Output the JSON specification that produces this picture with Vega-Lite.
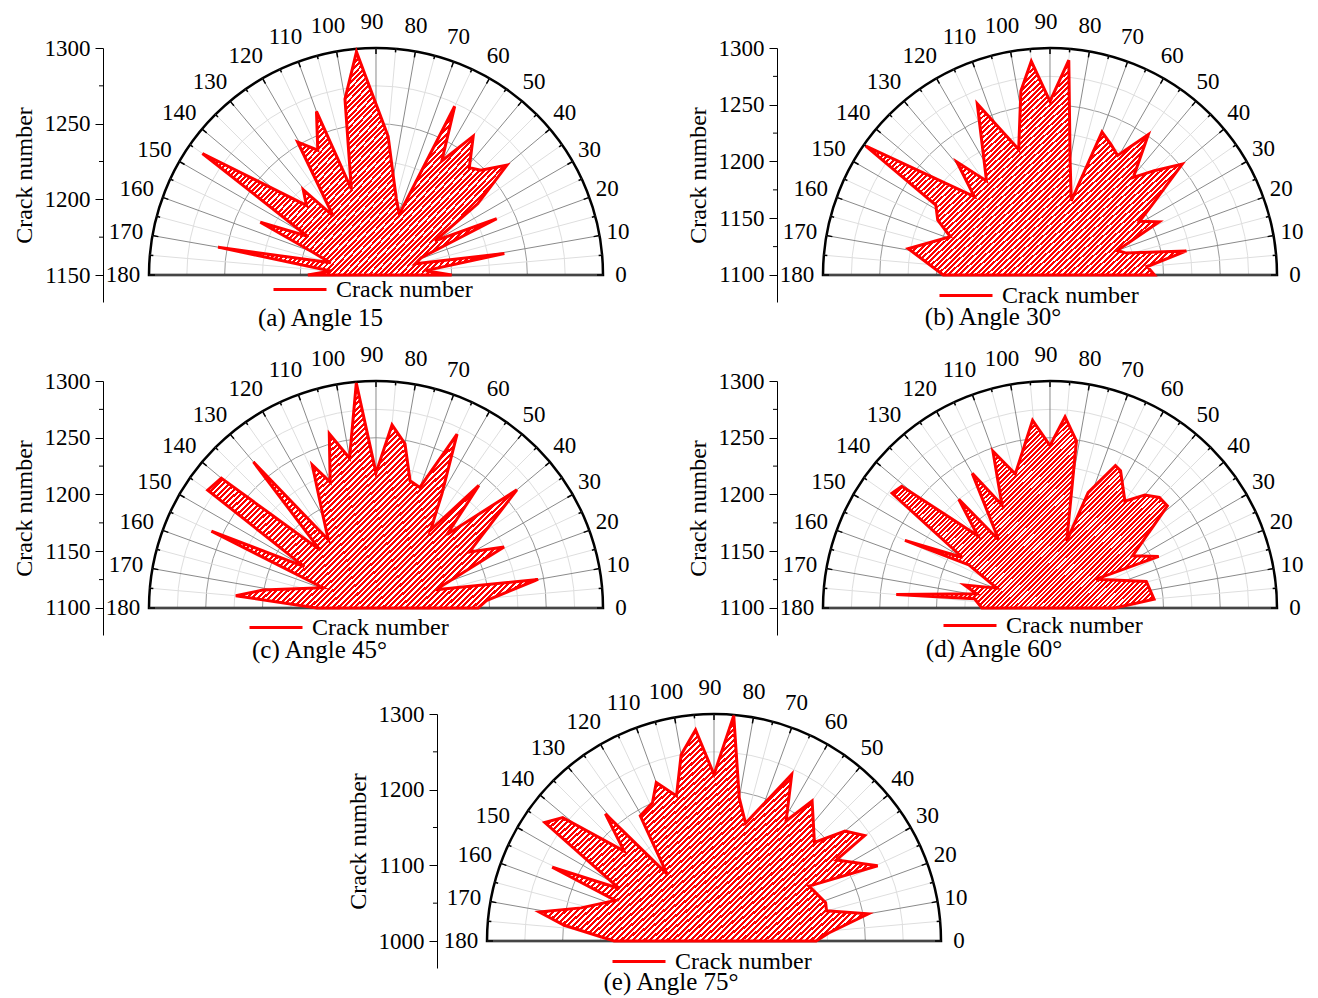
{
"$schema": "https://vega.github.io/schema/vega-lite/v6.json",
"padding": {"left": 12, "top": 10, "right": 10, "bottom": 10},
"background": "white",
"bounds": "flush",
"columns": 2,
"spacing": {"row": 79, "column": 151},
"resolve": {"scale": {"stroke": "independent"}, "legend": {"stroke": "independent"}},
"config": {
 "view": {"stroke": null},
 "font": "Liberation Serif",
 "axis": {"labelFont": "Liberation Serif", "labelFontSize": 23, "labelColor": "black", "titleFont": "Liberation Serif", "titleFontSize": 24, "titleFontWeight": "normal", "titleColor": "black", "domainColor": "black", "domainWidth": 1, "tickColor": "black", "tickSize": 8, "labelPadding": 5, "titlePadding": 8, "grid": false, "format": "d", "labelFlush": false, "labelOverlap": false},
 "legend": {"labelFont": "Liberation Serif", "labelFontSize": 24, "labelColor": "black", "symbolType": "stroke", "symbolSize": 2809, "symbolStrokeWidth": 3, "labelOffset": 8, "padding": 0},
 "title": {"font": "Liberation Serif", "fontSize": 25, "fontWeight": "normal", "color": "black", "orient": "bottom", "anchor": "middle", "offset": 3},
 "style": {"hatch": {"fill": {"gradient": "linear", "x1": 0, "y1": 0, "x2": 1.141, "y2": 0.8, "stops": [
{"offset":0,"color":"red"},{"offset":0.0055,"color":"red"},{"offset":0.0055,"color":"#fff"},{"offset":0.01,"color":"#fff"},
{"offset":0.01,"color":"red"},{"offset":0.0155,"color":"red"},{"offset":0.0155,"color":"#fff"},{"offset":0.02,"color":"#fff"},
{"offset":0.02,"color":"red"},{"offset":0.0255,"color":"red"},{"offset":0.0255,"color":"#fff"},{"offset":0.03,"color":"#fff"},
{"offset":0.03,"color":"red"},{"offset":0.0355,"color":"red"},{"offset":0.0355,"color":"#fff"},{"offset":0.04,"color":"#fff"},
{"offset":0.04,"color":"red"},{"offset":0.0455,"color":"red"},{"offset":0.0455,"color":"#fff"},{"offset":0.05,"color":"#fff"},
{"offset":0.05,"color":"red"},{"offset":0.0555,"color":"red"},{"offset":0.0555,"color":"#fff"},{"offset":0.06,"color":"#fff"},
{"offset":0.06,"color":"red"},{"offset":0.0655,"color":"red"},{"offset":0.0655,"color":"#fff"},{"offset":0.07,"color":"#fff"},
{"offset":0.07,"color":"red"},{"offset":0.0755,"color":"red"},{"offset":0.0755,"color":"#fff"},{"offset":0.08,"color":"#fff"},
{"offset":0.08,"color":"red"},{"offset":0.0855,"color":"red"},{"offset":0.0855,"color":"#fff"},{"offset":0.09,"color":"#fff"},
{"offset":0.09,"color":"red"},{"offset":0.0955,"color":"red"},{"offset":0.0955,"color":"#fff"},{"offset":0.10,"color":"#fff"},
{"offset":0.10,"color":"red"},{"offset":0.1055,"color":"red"},{"offset":0.1055,"color":"#fff"},{"offset":0.11,"color":"#fff"},
{"offset":0.11,"color":"red"},{"offset":0.1155,"color":"red"},{"offset":0.1155,"color":"#fff"},{"offset":0.12,"color":"#fff"},
{"offset":0.12,"color":"red"},{"offset":0.1255,"color":"red"},{"offset":0.1255,"color":"#fff"},{"offset":0.13,"color":"#fff"},
{"offset":0.13,"color":"red"},{"offset":0.1355,"color":"red"},{"offset":0.1355,"color":"#fff"},{"offset":0.14,"color":"#fff"},
{"offset":0.14,"color":"red"},{"offset":0.1455,"color":"red"},{"offset":0.1455,"color":"#fff"},{"offset":0.15,"color":"#fff"},
{"offset":0.15,"color":"red"},{"offset":0.1555,"color":"red"},{"offset":0.1555,"color":"#fff"},{"offset":0.16,"color":"#fff"},
{"offset":0.16,"color":"red"},{"offset":0.1655,"color":"red"},{"offset":0.1655,"color":"#fff"},{"offset":0.17,"color":"#fff"},
{"offset":0.17,"color":"red"},{"offset":0.1755,"color":"red"},{"offset":0.1755,"color":"#fff"},{"offset":0.18,"color":"#fff"},
{"offset":0.18,"color":"red"},{"offset":0.1855,"color":"red"},{"offset":0.1855,"color":"#fff"},{"offset":0.19,"color":"#fff"},
{"offset":0.19,"color":"red"},{"offset":0.1955,"color":"red"},{"offset":0.1955,"color":"#fff"},{"offset":0.20,"color":"#fff"},
{"offset":0.20,"color":"red"},{"offset":0.2055,"color":"red"},{"offset":0.2055,"color":"#fff"},{"offset":0.21,"color":"#fff"},
{"offset":0.21,"color":"red"},{"offset":0.2155,"color":"red"},{"offset":0.2155,"color":"#fff"},{"offset":0.22,"color":"#fff"},
{"offset":0.22,"color":"red"},{"offset":0.2255,"color":"red"},{"offset":0.2255,"color":"#fff"},{"offset":0.23,"color":"#fff"},
{"offset":0.23,"color":"red"},{"offset":0.2355,"color":"red"},{"offset":0.2355,"color":"#fff"},{"offset":0.24,"color":"#fff"},
{"offset":0.24,"color":"red"},{"offset":0.2455,"color":"red"},{"offset":0.2455,"color":"#fff"},{"offset":0.25,"color":"#fff"},
{"offset":0.25,"color":"red"},{"offset":0.2555,"color":"red"},{"offset":0.2555,"color":"#fff"},{"offset":0.26,"color":"#fff"},
{"offset":0.26,"color":"red"},{"offset":0.2655,"color":"red"},{"offset":0.2655,"color":"#fff"},{"offset":0.27,"color":"#fff"},
{"offset":0.27,"color":"red"},{"offset":0.2755,"color":"red"},{"offset":0.2755,"color":"#fff"},{"offset":0.28,"color":"#fff"},
{"offset":0.28,"color":"red"},{"offset":0.2855,"color":"red"},{"offset":0.2855,"color":"#fff"},{"offset":0.29,"color":"#fff"},
{"offset":0.29,"color":"red"},{"offset":0.2955,"color":"red"},{"offset":0.2955,"color":"#fff"},{"offset":0.30,"color":"#fff"},
{"offset":0.30,"color":"red"},{"offset":0.3055,"color":"red"},{"offset":0.3055,"color":"#fff"},{"offset":0.31,"color":"#fff"},
{"offset":0.31,"color":"red"},{"offset":0.3155,"color":"red"},{"offset":0.3155,"color":"#fff"},{"offset":0.32,"color":"#fff"},
{"offset":0.32,"color":"red"},{"offset":0.3255,"color":"red"},{"offset":0.3255,"color":"#fff"},{"offset":0.33,"color":"#fff"},
{"offset":0.33,"color":"red"},{"offset":0.3355,"color":"red"},{"offset":0.3355,"color":"#fff"},{"offset":0.34,"color":"#fff"},
{"offset":0.34,"color":"red"},{"offset":0.3455,"color":"red"},{"offset":0.3455,"color":"#fff"},{"offset":0.35,"color":"#fff"},
{"offset":0.35,"color":"red"},{"offset":0.3555,"color":"red"},{"offset":0.3555,"color":"#fff"},{"offset":0.36,"color":"#fff"},
{"offset":0.36,"color":"red"},{"offset":0.3655,"color":"red"},{"offset":0.3655,"color":"#fff"},{"offset":0.37,"color":"#fff"},
{"offset":0.37,"color":"red"},{"offset":0.3755,"color":"red"},{"offset":0.3755,"color":"#fff"},{"offset":0.38,"color":"#fff"},
{"offset":0.38,"color":"red"},{"offset":0.3855,"color":"red"},{"offset":0.3855,"color":"#fff"},{"offset":0.39,"color":"#fff"},
{"offset":0.39,"color":"red"},{"offset":0.3955,"color":"red"},{"offset":0.3955,"color":"#fff"},{"offset":0.40,"color":"#fff"},
{"offset":0.40,"color":"red"},{"offset":0.4055,"color":"red"},{"offset":0.4055,"color":"#fff"},{"offset":0.41,"color":"#fff"},
{"offset":0.41,"color":"red"},{"offset":0.4155,"color":"red"},{"offset":0.4155,"color":"#fff"},{"offset":0.42,"color":"#fff"},
{"offset":0.42,"color":"red"},{"offset":0.4255,"color":"red"},{"offset":0.4255,"color":"#fff"},{"offset":0.43,"color":"#fff"},
{"offset":0.43,"color":"red"},{"offset":0.4355,"color":"red"},{"offset":0.4355,"color":"#fff"},{"offset":0.44,"color":"#fff"},
{"offset":0.44,"color":"red"},{"offset":0.4455,"color":"red"},{"offset":0.4455,"color":"#fff"},{"offset":0.45,"color":"#fff"},
{"offset":0.45,"color":"red"},{"offset":0.4555,"color":"red"},{"offset":0.4555,"color":"#fff"},{"offset":0.46,"color":"#fff"},
{"offset":0.46,"color":"red"},{"offset":0.4655,"color":"red"},{"offset":0.4655,"color":"#fff"},{"offset":0.47,"color":"#fff"},
{"offset":0.47,"color":"red"},{"offset":0.4755,"color":"red"},{"offset":0.4755,"color":"#fff"},{"offset":0.48,"color":"#fff"},
{"offset":0.48,"color":"red"},{"offset":0.4855,"color":"red"},{"offset":0.4855,"color":"#fff"},{"offset":0.49,"color":"#fff"},
{"offset":0.49,"color":"red"},{"offset":0.4955,"color":"red"},{"offset":0.4955,"color":"#fff"},{"offset":0.50,"color":"#fff"},
{"offset":0.50,"color":"red"},{"offset":0.5055,"color":"red"},{"offset":0.5055,"color":"#fff"},{"offset":0.51,"color":"#fff"},
{"offset":0.51,"color":"red"},{"offset":0.5155,"color":"red"},{"offset":0.5155,"color":"#fff"},{"offset":0.52,"color":"#fff"},
{"offset":0.52,"color":"red"},{"offset":0.5255,"color":"red"},{"offset":0.5255,"color":"#fff"},{"offset":0.53,"color":"#fff"},
{"offset":0.53,"color":"red"},{"offset":0.5355,"color":"red"},{"offset":0.5355,"color":"#fff"},{"offset":0.54,"color":"#fff"},
{"offset":0.54,"color":"red"},{"offset":0.5455,"color":"red"},{"offset":0.5455,"color":"#fff"},{"offset":0.55,"color":"#fff"},
{"offset":0.55,"color":"red"},{"offset":0.5555,"color":"red"},{"offset":0.5555,"color":"#fff"},{"offset":0.56,"color":"#fff"},
{"offset":0.56,"color":"red"},{"offset":0.5655,"color":"red"},{"offset":0.5655,"color":"#fff"},{"offset":0.57,"color":"#fff"},
{"offset":0.57,"color":"red"},{"offset":0.5755,"color":"red"},{"offset":0.5755,"color":"#fff"},{"offset":0.58,"color":"#fff"},
{"offset":0.58,"color":"red"},{"offset":0.5855,"color":"red"},{"offset":0.5855,"color":"#fff"},{"offset":0.59,"color":"#fff"},
{"offset":0.59,"color":"red"},{"offset":0.5955,"color":"red"},{"offset":0.5955,"color":"#fff"},{"offset":0.60,"color":"#fff"},
{"offset":0.60,"color":"red"},{"offset":0.6055,"color":"red"},{"offset":0.6055,"color":"#fff"},{"offset":0.61,"color":"#fff"},
{"offset":0.61,"color":"red"},{"offset":0.6155,"color":"red"},{"offset":0.6155,"color":"#fff"},{"offset":0.62,"color":"#fff"},
{"offset":0.62,"color":"red"},{"offset":0.6255,"color":"red"},{"offset":0.6255,"color":"#fff"},{"offset":0.63,"color":"#fff"},
{"offset":0.63,"color":"red"},{"offset":0.6355,"color":"red"},{"offset":0.6355,"color":"#fff"},{"offset":0.64,"color":"#fff"},
{"offset":0.64,"color":"red"},{"offset":0.6455,"color":"red"},{"offset":0.6455,"color":"#fff"},{"offset":0.65,"color":"#fff"},
{"offset":0.65,"color":"red"},{"offset":0.6555,"color":"red"},{"offset":0.6555,"color":"#fff"},{"offset":0.66,"color":"#fff"},
{"offset":0.66,"color":"red"},{"offset":0.6655,"color":"red"},{"offset":0.6655,"color":"#fff"},{"offset":0.67,"color":"#fff"},
{"offset":0.67,"color":"red"},{"offset":0.6755,"color":"red"},{"offset":0.6755,"color":"#fff"},{"offset":0.68,"color":"#fff"},
{"offset":0.68,"color":"red"},{"offset":0.6855,"color":"red"},{"offset":0.6855,"color":"#fff"},{"offset":0.69,"color":"#fff"},
{"offset":0.69,"color":"red"},{"offset":0.6955,"color":"red"},{"offset":0.6955,"color":"#fff"},{"offset":0.70,"color":"#fff"},
{"offset":0.70,"color":"red"},{"offset":0.7055,"color":"red"},{"offset":0.7055,"color":"#fff"},{"offset":0.71,"color":"#fff"},
{"offset":0.71,"color":"red"},{"offset":0.7155,"color":"red"},{"offset":0.7155,"color":"#fff"},{"offset":0.72,"color":"#fff"},
{"offset":0.72,"color":"red"},{"offset":0.7255,"color":"red"},{"offset":0.7255,"color":"#fff"},{"offset":0.73,"color":"#fff"},
{"offset":0.73,"color":"red"},{"offset":0.7355,"color":"red"},{"offset":0.7355,"color":"#fff"},{"offset":0.74,"color":"#fff"},
{"offset":0.74,"color":"red"},{"offset":0.7455,"color":"red"},{"offset":0.7455,"color":"#fff"},{"offset":0.75,"color":"#fff"},
{"offset":0.75,"color":"red"},{"offset":0.7555,"color":"red"},{"offset":0.7555,"color":"#fff"},{"offset":0.76,"color":"#fff"},
{"offset":0.76,"color":"red"},{"offset":0.7655,"color":"red"},{"offset":0.7655,"color":"#fff"},{"offset":0.77,"color":"#fff"},
{"offset":0.77,"color":"red"},{"offset":0.7755,"color":"red"},{"offset":0.7755,"color":"#fff"},{"offset":0.78,"color":"#fff"},
{"offset":0.78,"color":"red"},{"offset":0.7855,"color":"red"},{"offset":0.7855,"color":"#fff"},{"offset":0.79,"color":"#fff"},
{"offset":0.79,"color":"red"},{"offset":0.7955,"color":"red"},{"offset":0.7955,"color":"#fff"},{"offset":0.80,"color":"#fff"},
{"offset":0.80,"color":"red"},{"offset":0.8055,"color":"red"},{"offset":0.8055,"color":"#fff"},{"offset":0.81,"color":"#fff"},
{"offset":0.81,"color":"red"},{"offset":0.8155,"color":"red"},{"offset":0.8155,"color":"#fff"},{"offset":0.82,"color":"#fff"},
{"offset":0.82,"color":"red"},{"offset":0.8255,"color":"red"},{"offset":0.8255,"color":"#fff"},{"offset":0.83,"color":"#fff"},
{"offset":0.83,"color":"red"},{"offset":0.8355,"color":"red"},{"offset":0.8355,"color":"#fff"},{"offset":0.84,"color":"#fff"},
{"offset":0.84,"color":"red"},{"offset":0.8455,"color":"red"},{"offset":0.8455,"color":"#fff"},{"offset":0.85,"color":"#fff"},
{"offset":0.85,"color":"red"},{"offset":0.8555,"color":"red"},{"offset":0.8555,"color":"#fff"},{"offset":0.86,"color":"#fff"},
{"offset":0.86,"color":"red"},{"offset":0.8655,"color":"red"},{"offset":0.8655,"color":"#fff"},{"offset":0.87,"color":"#fff"},
{"offset":0.87,"color":"red"},{"offset":0.8755,"color":"red"},{"offset":0.8755,"color":"#fff"},{"offset":0.88,"color":"#fff"},
{"offset":0.88,"color":"red"},{"offset":0.8855,"color":"red"},{"offset":0.8855,"color":"#fff"},{"offset":0.89,"color":"#fff"},
{"offset":0.89,"color":"red"},{"offset":0.8955,"color":"red"},{"offset":0.8955,"color":"#fff"},{"offset":0.90,"color":"#fff"},
{"offset":0.90,"color":"red"},{"offset":0.9055,"color":"red"},{"offset":0.9055,"color":"#fff"},{"offset":0.91,"color":"#fff"},
{"offset":0.91,"color":"red"},{"offset":0.9155,"color":"red"},{"offset":0.9155,"color":"#fff"},{"offset":0.92,"color":"#fff"},
{"offset":0.92,"color":"red"},{"offset":0.9255,"color":"red"},{"offset":0.9255,"color":"#fff"},{"offset":0.93,"color":"#fff"},
{"offset":0.93,"color":"red"},{"offset":0.9355,"color":"red"},{"offset":0.9355,"color":"#fff"},{"offset":0.94,"color":"#fff"},
{"offset":0.94,"color":"red"},{"offset":0.9455,"color":"red"},{"offset":0.9455,"color":"#fff"},{"offset":0.95,"color":"#fff"},
{"offset":0.95,"color":"red"},{"offset":0.9555,"color":"red"},{"offset":0.9555,"color":"#fff"},{"offset":0.96,"color":"#fff"},
{"offset":0.96,"color":"red"},{"offset":0.9655,"color":"red"},{"offset":0.9655,"color":"#fff"},{"offset":0.97,"color":"#fff"},
{"offset":0.97,"color":"red"},{"offset":0.9755,"color":"red"},{"offset":0.9755,"color":"#fff"},{"offset":0.98,"color":"#fff"},
{"offset":0.98,"color":"red"},{"offset":0.9855,"color":"red"},{"offset":0.9855,"color":"#fff"},{"offset":0.99,"color":"#fff"},
{"offset":0.99,"color":"red"},{"offset":0.9955,"color":"red"},{"offset":0.9955,"color":"#fff"},{"offset":1,"color":"#fff"}
 ]}}}
},
"datasets": {
 "spokes": [{"a":0},{"a":5},{"a":10},{"a":15},{"a":20},{"a":25},{"a":30},{"a":35},{"a":40},{"a":45},{"a":50},{"a":55},{"a":60},{"a":65},{"a":70},{"a":75},{"a":80},{"a":85},{"a":90},{"a":95},{"a":100},{"a":105},{"a":110},{"a":115},{"a":120},{"a":125},{"a":130},{"a":135},{"a":140},{"a":145},{"a":150},{"a":155},{"a":160},{"a":165},{"a":170},{"a":175},{"a":180}],
 "rings": [
  {"p":"a","v":1175,"m":0},{"p":"a","v":1200,"m":1},{"p":"a","v":1225,"m":0},{"p":"a","v":1250,"m":1},{"p":"a","v":1275,"m":0},{"p":"a","v":1300,"m":2},
  {"p":"bcd","v":1125,"m":0},{"p":"bcd","v":1150,"m":1},{"p":"bcd","v":1175,"m":0},{"p":"bcd","v":1200,"m":1},{"p":"bcd","v":1225,"m":0},{"p":"bcd","v":1250,"m":1},{"p":"bcd","v":1275,"m":0},{"p":"bcd","v":1300,"m":2},
  {"p":"e","v":1050,"m":0},{"p":"e","v":1100,"m":1},{"p":"e","v":1150,"m":0},{"p":"e","v":1200,"m":1},{"p":"e","v":1250,"m":0},{"p":"e","v":1300,"m":2}
 ],
 "poly": [
  {"p":"a","i":0,"a":0,"v":1200},{"p":"a","i":1,"a":5,"v":1183},{"p":"a","i":2,"a":9.5,"v":1236},{"p":"a","i":3,"a":16,"v":1177},{"p":"a","i":4,"a":21,"v":1182},{"p":"a","i":5,"a":25,"v":1238},{"p":"a","i":6,"a":30,"v":1195},{"p":"a","i":7,"a":35,"v":1232},{"p":"a","i":8,"a":40,"v":1263},{"p":"a","i":9,"a":45,"v":1248},{"p":"a","i":10,"a":49,"v":1244},{"p":"a","i":11,"a":55,"v":1262},{"p":"a","i":12,"a":60,"v":1237},{"p":"a","i":13,"a":65,"v":1273},{"p":"a","i":14,"a":69,"v":1193},{"p":"a","i":15,"a":75,"v":1202},{"p":"a","i":16,"a":80,"v":1216},{"p":"a","i":17,"a":85,"v":1242},{"p":"a","i":18,"a":95,"v":1298},{"p":"a","i":19,"a":100,"v":1268},{"p":"a","i":20,"a":106,"v":1209},{"p":"a","i":21,"a":110,"v":1265},{"p":"a","i":22,"a":115,"v":1241},{"p":"a","i":23,"a":120.5,"v":1252},{"p":"a","i":24,"a":126,"v":1198},{"p":"a","i":25,"a":130.5,"v":1224},{"p":"a","i":26,"a":135,"v":1215},{"p":"a","i":27,"a":145,"v":1290},{"p":"a","i":28,"a":150.5,"v":1202},{"p":"a","i":29,"a":155.5,"v":1234},{"p":"a","i":30,"a":160,"v":1195},{"p":"a","i":31,"a":165,"v":1181},{"p":"a","i":32,"a":170,"v":1256},{"p":"a","i":33,"a":175,"v":1180},{"p":"a","i":34,"a":180,"v":1195},
  {"p":"b","i":0,"a":0,"v":1192},{"p":"b","i":1,"a":5,"v":1186},{"p":"b","i":2,"a":10,"v":1222},{"p":"b","i":3,"a":16,"v":1170},{"p":"b","i":4,"a":20,"v":1163},{"p":"b","i":5,"a":26,"v":1207},{"p":"b","i":6,"a":31,"v":1192},{"p":"b","i":7,"a":35,"v":1212},{"p":"b","i":8,"a":40,"v":1252},{"p":"b","i":9,"a":45,"v":1230},{"p":"b","i":10,"a":49.5,"v":1213},{"p":"b","i":11,"a":55,"v":1251},{"p":"b","i":12,"a":60.5,"v":1221},{"p":"b","i":13,"a":65,"v":1227},{"p":"b","i":14,"a":70,"v":1234},{"p":"b","i":15,"a":74,"v":1168},{"p":"b","i":16,"a":80,"v":1202},{"p":"b","i":17,"a":85,"v":1290},{"p":"b","i":18,"a":90,"v":1253},{"p":"b","i":19,"a":95,"v":1289},{"p":"b","i":20,"a":99,"v":1264},{"p":"b","i":21,"a":104,"v":1214},{"p":"b","i":22,"a":113,"v":1264},{"p":"b","i":23,"a":124,"v":1200},{"p":"b","i":24,"a":129.5,"v":1229},{"p":"b","i":25,"a":134,"v":1196},{"p":"b","i":26,"a":145,"v":1298},{"p":"b","i":27,"a":148.5,"v":1218},{"p":"b","i":28,"a":154,"v":1210},{"p":"b","i":29,"a":159,"v":1194},{"p":"b","i":30,"a":169.5,"v":1227},{"p":"b","i":31,"a":180,"v":1194},
  {"p":"c","i":0,"a":0,"v":1190},{"p":"c","i":1,"a":4,"v":1198},{"p":"c","i":2,"a":10,"v":1245},{"p":"c","i":3,"a":17,"v":1155},{"p":"c","i":4,"a":25.5,"v":1225},{"p":"c","i":5,"a":31,"v":1196},{"p":"c","i":6,"a":40,"v":1262},{"p":"c","i":7,"a":46,"v":1190},{"p":"c","i":8,"a":50,"v":1241},{"p":"c","i":9,"a":55,"v":1184},{"p":"c","i":10,"a":60,"v":1216},{"p":"c","i":11,"a":65,"v":1269},{"p":"c","i":12,"a":70,"v":1213},{"p":"c","i":13,"a":75,"v":1216},{"p":"c","i":14,"a":80,"v":1247},{"p":"c","i":15,"a":85,"v":1262},{"p":"c","i":16,"a":90,"v":1219},{"p":"c","i":17,"a":95,"v":1299},{"p":"c","i":18,"a":100,"v":1234},{"p":"c","i":19,"a":105,"v":1259},{"p":"c","i":20,"a":110,"v":1218},{"p":"c","i":21,"a":114,"v":1238},{"p":"c","i":22,"a":120,"v":1193},{"p":"c","i":23,"a":125,"v":1173},{"p":"c","i":24,"a":130,"v":1268},{"p":"c","i":25,"a":134,"v":1171},{"p":"c","i":26,"a":140,"v":1278},{"p":"c","i":27,"a":145,"v":1281},{"p":"c","i":28,"a":150,"v":1173},{"p":"c","i":29,"a":155,"v":1260},{"p":"c","i":30,"a":159,"v":1150},{"p":"c","i":31,"a":171,"v":1201},{"p":"c","i":32,"a":175,"v":1224},{"p":"c","i":33,"a":180,"v":1152},
  {"p":"d","i":0,"a":0,"v":1157},{"p":"d","i":1,"a":4.8,"v":1192},{"p":"d","i":2,"a":15.4,"v":1188},{"p":"d","i":3,"a":32,"v":1148},{"p":"d","i":4,"a":25.4,"v":1206},{"p":"d","i":5,"a":32.3,"v":1186},{"p":"d","i":6,"a":41,"v":1237},{"p":"d","i":7,"a":45.3,"v":1237},{"p":"d","i":8,"a":50,"v":1230},{"p":"d","i":9,"a":55,"v":1215},{"p":"d","i":10,"a":62.8,"v":1236},{"p":"d","i":11,"a":65.3,"v":1238},{"p":"d","i":12,"a":71.7,"v":1207},{"p":"d","i":13,"a":76,"v":1161},{"p":"d","i":14,"a":81,"v":1249},{"p":"d","i":15,"a":85.5,"v":1269},{"p":"d","i":16,"a":90,"v":1243},{"p":"d","i":17,"a":95.3,"v":1266},{"p":"d","i":18,"a":104.5,"v":1222},{"p":"d","i":19,"a":110,"v":1247},{"p":"d","i":20,"a":115,"v":1200},{"p":"d","i":21,"a":120,"v":1237},{"p":"d","i":22,"a":127,"v":1175},{"p":"d","i":23,"a":130,"v":1225},{"p":"d","i":24,"a":135,"v":1190},{"p":"d","i":25,"a":140.6,"v":1269},{"p":"d","i":26,"a":144,"v":1272},{"p":"d","i":27,"a":150,"v":1189},{"p":"d","i":28,"a":155,"v":1241},{"p":"d","i":29,"a":152,"v":1181},{"p":"d","i":30,"a":159.5,"v":1150},{"p":"d","i":31,"a":165,"v":1178},{"p":"d","i":32,"a":169,"v":1166},{"p":"d","i":33,"a":175,"v":1236},{"p":"d","i":34,"a":173,"v":1167},{"p":"d","i":35,"a":180,"v":1160},
  {"p":"e","i":0,"a":0,"v":1135},{"p":"e","i":1,"a":4,"v":1152},{"p":"e","i":2,"a":10,"v":1207},{"p":"e","i":3,"a":15,"v":1154},{"p":"e","i":4,"a":19,"v":1156},{"p":"e","i":5,"a":30,"v":1145},{"p":"e","i":6,"a":24.7,"v":1238},{"p":"e","i":7,"a":33.5,"v":1194},{"p":"e","i":8,"a":35,"v":1243},{"p":"e","i":9,"a":40,"v":1226},{"p":"e","i":10,"a":44.5,"v":1186},{"p":"e","i":11,"a":55,"v":1226},{"p":"e","i":12,"a":59,"v":1185},{"p":"e","i":13,"a":65,"v":1243},{"p":"e","i":14,"a":75,"v":1161},{"p":"e","i":15,"a":80,"v":1192},{"p":"e","i":16,"a":85,"v":1299},{"p":"e","i":17,"a":90,"v":1220},{"p":"e","i":18,"a":95,"v":1280},{"p":"e","i":19,"a":100,"v":1250},{"p":"e","i":20,"a":104.5,"v":1198},{"p":"e","i":21,"a":110,"v":1223},{"p":"e","i":22,"a":114,"v":1200},{"p":"e","i":23,"a":120.5,"v":1192},{"p":"e","i":24,"a":125,"v":1108},{"p":"e","i":25,"a":130.5,"v":1221},{"p":"e","i":26,"a":135,"v":1168},{"p":"e","i":27,"a":140.8,"v":1258},{"p":"e","i":28,"a":145,"v":1273},{"p":"e","i":29,"a":151,"v":1143},{"p":"e","i":30,"a":155.5,"v":1235},{"p":"e","i":31,"a":157.6,"v":1141},{"p":"e","i":32,"a":166,"v":1181},{"p":"e","i":33,"a":170.6,"v":1234},{"p":"e","i":34,"a":174,"v":1199},{"p":"e","i":35,"a":180,"v":1132}
 ]
},
"concat": [
  {
   "width": 523, "height": 254,
   "title": {"text": "(a) Angle 15", "dx": -44, "offset": 3.5},
   "encoding": {
    "x": {"field": "px", "type": "quantitative", "scale": {"domain": [-1.2026, 1.1013], "nice": false, "zero": false}, "axis": null},
    "y": {"field": "py", "type": "quantitative", "scale": {"domain": [1132.16, 1300], "nice": false, "zero": false}, "axis": {"values": [1150, 1200, 1250, 1300], "title": "Crack number"}}
   },
   "layer": [
    {"data": {"name": "rings"}, "transform": [{"filter": "datum.p=='a'"}, {"calculate": "(datum.v-1150)/150", "as": "r"}, {"calculate": "0", "as": "px"}, {"calculate": "1150", "as": "py"}],
     "mark": {"type": "arc", "theta": -1.5708, "theta2": 1.5708, "filled": false},
     "encoding": {"radius": {"field": "r", "type": "quantitative", "stack": null, "scale": {"type": "linear", "domain": [0, 1], "range": [0, 227], "zero": true}}, "stroke": {"condition": [{"test": "datum.m==2", "value": "black"}, {"test": "datum.m==1", "value": "#9b9b9b"}], "value": "#dedede"}, "strokeWidth": {"condition": {"test": "datum.m==2", "value": 2.5}, "value": 1}}},
    {"data": {"name": "spokes"}, "transform": [{"calculate": "datum.a*PI/180", "as": "t"}, {"calculate": "0", "as": "px"}, {"calculate": "1150", "as": "py"}, {"calculate": "cos(datum.t)", "as": "qx"}, {"calculate": "1150+150*sin(datum.t)", "as": "qy"}],
     "mark": {"type": "rule", "strokeWidth": 1},
     "encoding": {"x2": {"field": "qx"}, "y2": {"field": "qy"}, "stroke": {"condition": {"test": "datum.a%10==0", "value": "#8a8a8a"}, "value": "#dedede"}}},
    {"data": {"name": "spokes"}, "transform": [{"calculate": "datum.a*PI/180", "as": "t"}, {"calculate": "1-(datum.a%10==0?6:3.5)/227", "as": "k"}, {"calculate": "datum.k*cos(datum.t)", "as": "px"}, {"calculate": "1150+150*datum.k*sin(datum.t)", "as": "py"}, {"calculate": "cos(datum.t)", "as": "qx"}, {"calculate": "1150+150*sin(datum.t)", "as": "qy"}],
     "mark": {"type": "rule", "stroke": "black", "strokeWidth": 1.5},
     "encoding": {"x2": {"field": "qx"}, "y2": {"field": "qy"}}},
    {"data": {"name": "rings"}, "transform": [{"filter": "datum.p=='a' && datum.m==0"}, {"calculate": "-1.2026", "as": "px"}, {"calculate": "datum.v", "as": "py"}, {"calculate": "-1.2202", "as": "qx"}],
     "mark": {"type": "rule", "stroke": "black", "strokeWidth": 1},
     "encoding": {"x2": {"field": "qx"}}},
    {"data": {"name": "poly"}, "transform": [{"filter": "datum.p=='a'"}, {"calculate": "(datum.v-1150)/150", "as": "r"}, {"calculate": "datum.r*cos(datum.a*PI/180)", "as": "px"}, {"calculate": "1150+150*datum.r*sin(datum.a*PI/180)", "as": "py"}],
     "mark": {"type": "line", "style": "hatch", "strokeWidth": 3, "interpolate": "linear-closed"},
     "encoding": {"order": {"field": "i", "type": "quantitative"}, "stroke": {"datum": "Crack number", "type": "nominal", "scale": {"range": ["#ff0000"]}, "legend": {"orient": "none", "legendX": 169, "legendY": 213.5, "title": null}}}},
    {"data": {"name": "spokes"}, "transform": [{"filter": "datum.a%10==0"}, {"calculate": "datum.a*PI/180", "as": "t"}, {"calculate": "1+(22+4*abs(sin(datum.t)))/227", "as": "k"}, {"calculate": "datum.k*cos(datum.t)-4/227", "as": "px"}, {"calculate": "1150+150*datum.k*sin(datum.t)", "as": "py"}],
     "mark": {"type": "text", "fontSize": 23, "align": "center", "baseline": "middle", "color": "black"},
     "encoding": {"text": {"field": "a", "type": "quantitative", "format": "d"}}}
   ]
  },
  {
   "width": 523, "height": 254,
   "title": {"text": "(b) Angle 30°", "dx": -45.5, "offset": -2.5},
   "encoding": {
    "x": {"field": "px", "type": "quantitative", "scale": {"domain": [-1.2026, 1.1013], "nice": false, "zero": false}, "axis": null},
    "y": {"field": "py", "type": "quantitative", "scale": {"domain": [1076.21, 1300], "nice": false, "zero": false}, "axis": {"values": [1100, 1150, 1200, 1250, 1300], "title": "Crack number"}}
   },
   "layer": [
    {"data": {"name": "rings"}, "transform": [{"filter": "datum.p=='bcd'"}, {"calculate": "(datum.v-1100)/200", "as": "r"}, {"calculate": "0", "as": "px"}, {"calculate": "1100", "as": "py"}],
     "mark": {"type": "arc", "theta": -1.5708, "theta2": 1.5708, "filled": false},
     "encoding": {"radius": {"field": "r", "type": "quantitative", "stack": null, "scale": {"type": "linear", "domain": [0, 1], "range": [0, 227], "zero": true}}, "stroke": {"condition": [{"test": "datum.m==2", "value": "black"}, {"test": "datum.m==1", "value": "#9b9b9b"}], "value": "#dedede"}, "strokeWidth": {"condition": {"test": "datum.m==2", "value": 2.5}, "value": 1}}},
    {"data": {"name": "spokes"}, "transform": [{"calculate": "datum.a*PI/180", "as": "t"}, {"calculate": "0", "as": "px"}, {"calculate": "1100", "as": "py"}, {"calculate": "cos(datum.t)", "as": "qx"}, {"calculate": "1100+200*sin(datum.t)", "as": "qy"}],
     "mark": {"type": "rule", "strokeWidth": 1},
     "encoding": {"x2": {"field": "qx"}, "y2": {"field": "qy"}, "stroke": {"condition": {"test": "datum.a%10==0", "value": "#8a8a8a"}, "value": "#dedede"}}},
    {"data": {"name": "spokes"}, "transform": [{"calculate": "datum.a*PI/180", "as": "t"}, {"calculate": "1-(datum.a%10==0?6:3.5)/227", "as": "k"}, {"calculate": "datum.k*cos(datum.t)", "as": "px"}, {"calculate": "1100+200*datum.k*sin(datum.t)", "as": "py"}, {"calculate": "cos(datum.t)", "as": "qx"}, {"calculate": "1100+200*sin(datum.t)", "as": "qy"}],
     "mark": {"type": "rule", "stroke": "black", "strokeWidth": 1.5},
     "encoding": {"x2": {"field": "qx"}, "y2": {"field": "qy"}}},
    {"data": {"name": "rings"}, "transform": [{"filter": "datum.p=='bcd' && datum.m==0"}, {"calculate": "-1.2026", "as": "px"}, {"calculate": "datum.v", "as": "py"}, {"calculate": "-1.2202", "as": "qx"}],
     "mark": {"type": "rule", "stroke": "black", "strokeWidth": 1},
     "encoding": {"x2": {"field": "qx"}}},
    {"data": {"name": "poly"}, "transform": [{"filter": "datum.p=='b'"}, {"calculate": "(datum.v-1100)/200", "as": "r"}, {"calculate": "datum.r*cos(datum.a*PI/180)", "as": "px"}, {"calculate": "1100+200*datum.r*sin(datum.a*PI/180)", "as": "py"}],
     "mark": {"type": "line", "style": "hatch", "strokeWidth": 3, "interpolate": "linear-closed"},
     "encoding": {"order": {"field": "i", "type": "quantitative"}, "stroke": {"datum": "Crack number", "type": "nominal", "scale": {"range": ["#ff0000"]}, "legend": {"orient": "none", "legendX": 161, "legendY": 219.5, "title": null}}}},
    {"data": {"name": "spokes"}, "transform": [{"filter": "datum.a%10==0"}, {"calculate": "datum.a*PI/180", "as": "t"}, {"calculate": "1+(22+4*abs(sin(datum.t)))/227", "as": "k"}, {"calculate": "datum.k*cos(datum.t)-4/227", "as": "px"}, {"calculate": "1100+200*datum.k*sin(datum.t)", "as": "py"}],
     "mark": {"type": "text", "fontSize": 23, "align": "center", "baseline": "middle", "color": "black"},
     "encoding": {"text": {"field": "a", "type": "quantitative", "format": "d"}}}
   ]
  },
  {
   "width": 523, "height": 254,
   "title": {"text": "(c) Angle 45°", "dx": -45, "offset": -1.5},
   "encoding": {
    "x": {"field": "px", "type": "quantitative", "scale": {"domain": [-1.2026, 1.1013], "nice": false, "zero": false}, "axis": null},
    "y": {"field": "py", "type": "quantitative", "scale": {"domain": [1076.21, 1300], "nice": false, "zero": false}, "axis": {"values": [1100, 1150, 1200, 1250, 1300], "title": "Crack number"}}
   },
   "layer": [
    {"data": {"name": "rings"}, "transform": [{"filter": "datum.p=='bcd'"}, {"calculate": "(datum.v-1100)/200", "as": "r"}, {"calculate": "0", "as": "px"}, {"calculate": "1100", "as": "py"}],
     "mark": {"type": "arc", "theta": -1.5708, "theta2": 1.5708, "filled": false},
     "encoding": {"radius": {"field": "r", "type": "quantitative", "stack": null, "scale": {"type": "linear", "domain": [0, 1], "range": [0, 227], "zero": true}}, "stroke": {"condition": [{"test": "datum.m==2", "value": "black"}, {"test": "datum.m==1", "value": "#9b9b9b"}], "value": "#dedede"}, "strokeWidth": {"condition": {"test": "datum.m==2", "value": 2.5}, "value": 1}}},
    {"data": {"name": "spokes"}, "transform": [{"calculate": "datum.a*PI/180", "as": "t"}, {"calculate": "0", "as": "px"}, {"calculate": "1100", "as": "py"}, {"calculate": "cos(datum.t)", "as": "qx"}, {"calculate": "1100+200*sin(datum.t)", "as": "qy"}],
     "mark": {"type": "rule", "strokeWidth": 1},
     "encoding": {"x2": {"field": "qx"}, "y2": {"field": "qy"}, "stroke": {"condition": {"test": "datum.a%10==0", "value": "#8a8a8a"}, "value": "#dedede"}}},
    {"data": {"name": "spokes"}, "transform": [{"calculate": "datum.a*PI/180", "as": "t"}, {"calculate": "1-(datum.a%10==0?6:3.5)/227", "as": "k"}, {"calculate": "datum.k*cos(datum.t)", "as": "px"}, {"calculate": "1100+200*datum.k*sin(datum.t)", "as": "py"}, {"calculate": "cos(datum.t)", "as": "qx"}, {"calculate": "1100+200*sin(datum.t)", "as": "qy"}],
     "mark": {"type": "rule", "stroke": "black", "strokeWidth": 1.5},
     "encoding": {"x2": {"field": "qx"}, "y2": {"field": "qy"}}},
    {"data": {"name": "rings"}, "transform": [{"filter": "datum.p=='bcd' && datum.m==0"}, {"calculate": "-1.2026", "as": "px"}, {"calculate": "datum.v", "as": "py"}, {"calculate": "-1.2202", "as": "qx"}],
     "mark": {"type": "rule", "stroke": "black", "strokeWidth": 1},
     "encoding": {"x2": {"field": "qx"}}},
    {"data": {"name": "poly"}, "transform": [{"filter": "datum.p=='c'"}, {"calculate": "(datum.v-1100)/200", "as": "r"}, {"calculate": "datum.r*cos(datum.a*PI/180)", "as": "px"}, {"calculate": "1100+200*datum.r*sin(datum.a*PI/180)", "as": "py"}],
     "mark": {"type": "line", "style": "hatch", "strokeWidth": 3, "interpolate": "linear-closed"},
     "encoding": {"order": {"field": "i", "type": "quantitative"}, "stroke": {"datum": "Crack number", "type": "nominal", "scale": {"range": ["#ff0000"]}, "legend": {"orient": "none", "legendX": 145, "legendY": 218.5, "title": null}}}},
    {"data": {"name": "spokes"}, "transform": [{"filter": "datum.a%10==0"}, {"calculate": "datum.a*PI/180", "as": "t"}, {"calculate": "1+(22+4*abs(sin(datum.t)))/227", "as": "k"}, {"calculate": "datum.k*cos(datum.t)-4/227", "as": "px"}, {"calculate": "1100+200*datum.k*sin(datum.t)", "as": "py"}],
     "mark": {"type": "text", "fontSize": 23, "align": "center", "baseline": "middle", "color": "black"},
     "encoding": {"text": {"field": "a", "type": "quantitative", "format": "d"}}}
   ]
  },
  {
   "width": 523, "height": 254,
   "title": {"text": "(d) Angle 60°", "dx": -44.5, "offset": -0.5},
   "encoding": {
    "x": {"field": "px", "type": "quantitative", "scale": {"domain": [-1.2026, 1.1013], "nice": false, "zero": false}, "axis": null},
    "y": {"field": "py", "type": "quantitative", "scale": {"domain": [1076.21, 1300], "nice": false, "zero": false}, "axis": {"values": [1100, 1150, 1200, 1250, 1300], "title": "Crack number"}}
   },
   "layer": [
    {"data": {"name": "rings"}, "transform": [{"filter": "datum.p=='bcd'"}, {"calculate": "(datum.v-1100)/200", "as": "r"}, {"calculate": "0", "as": "px"}, {"calculate": "1100", "as": "py"}],
     "mark": {"type": "arc", "theta": -1.5708, "theta2": 1.5708, "filled": false},
     "encoding": {"radius": {"field": "r", "type": "quantitative", "stack": null, "scale": {"type": "linear", "domain": [0, 1], "range": [0, 227], "zero": true}}, "stroke": {"condition": [{"test": "datum.m==2", "value": "black"}, {"test": "datum.m==1", "value": "#9b9b9b"}], "value": "#dedede"}, "strokeWidth": {"condition": {"test": "datum.m==2", "value": 2.5}, "value": 1}}},
    {"data": {"name": "spokes"}, "transform": [{"calculate": "datum.a*PI/180", "as": "t"}, {"calculate": "0", "as": "px"}, {"calculate": "1100", "as": "py"}, {"calculate": "cos(datum.t)", "as": "qx"}, {"calculate": "1100+200*sin(datum.t)", "as": "qy"}],
     "mark": {"type": "rule", "strokeWidth": 1},
     "encoding": {"x2": {"field": "qx"}, "y2": {"field": "qy"}, "stroke": {"condition": {"test": "datum.a%10==0", "value": "#8a8a8a"}, "value": "#dedede"}}},
    {"data": {"name": "spokes"}, "transform": [{"calculate": "datum.a*PI/180", "as": "t"}, {"calculate": "1-(datum.a%10==0?6:3.5)/227", "as": "k"}, {"calculate": "datum.k*cos(datum.t)", "as": "px"}, {"calculate": "1100+200*datum.k*sin(datum.t)", "as": "py"}, {"calculate": "cos(datum.t)", "as": "qx"}, {"calculate": "1100+200*sin(datum.t)", "as": "qy"}],
     "mark": {"type": "rule", "stroke": "black", "strokeWidth": 1.5},
     "encoding": {"x2": {"field": "qx"}, "y2": {"field": "qy"}}},
    {"data": {"name": "rings"}, "transform": [{"filter": "datum.p=='bcd' && datum.m==0"}, {"calculate": "-1.2026", "as": "px"}, {"calculate": "datum.v", "as": "py"}, {"calculate": "-1.2202", "as": "qx"}],
     "mark": {"type": "rule", "stroke": "black", "strokeWidth": 1},
     "encoding": {"x2": {"field": "qx"}}},
    {"data": {"name": "poly"}, "transform": [{"filter": "datum.p=='d'"}, {"calculate": "(datum.v-1100)/200", "as": "r"}, {"calculate": "datum.r*cos(datum.a*PI/180)", "as": "px"}, {"calculate": "1100+200*datum.r*sin(datum.a*PI/180)", "as": "py"}],
     "mark": {"type": "line", "style": "hatch", "strokeWidth": 3, "interpolate": "linear-closed"},
     "encoding": {"order": {"field": "i", "type": "quantitative"}, "stroke": {"datum": "Crack number", "type": "nominal", "scale": {"range": ["#ff0000"]}, "legend": {"orient": "none", "legendX": 165, "legendY": 216.5, "title": null}}}},
    {"data": {"name": "spokes"}, "transform": [{"filter": "datum.a%10==0"}, {"calculate": "datum.a*PI/180", "as": "t"}, {"calculate": "1+(22+4*abs(sin(datum.t)))/227", "as": "k"}, {"calculate": "datum.k*cos(datum.t)-4/227", "as": "px"}, {"calculate": "1100+200*datum.k*sin(datum.t)", "as": "py"}],
     "mark": {"type": "text", "fontSize": 23, "align": "center", "baseline": "middle", "color": "black"},
     "encoding": {"text": {"field": "a", "type": "quantitative", "format": "d"}}}
   ]
  },
  {
   "width": 523, "height": 254,
   "title": {"text": "(e) Angle 75°", "dx": 306.5, "offset": -3.5},
   "encoding": {
    "x": {"field": "px", "type": "quantitative", "scale": {"domain": [-2.6916, -0.3877], "nice": false, "zero": false}, "axis": null},
    "y": {"field": "py", "type": "quantitative", "scale": {"domain": [964.32, 1300], "nice": false, "zero": false}, "axis": {"values": [1000, 1100, 1200, 1300], "title": "Crack number", "offset": -334}}
   },
   "layer": [
    {"data": {"name": "rings"}, "transform": [{"filter": "datum.p=='e'"}, {"calculate": "(datum.v-1000)/300", "as": "r"}, {"calculate": "0", "as": "px"}, {"calculate": "1000", "as": "py"}],
     "mark": {"type": "arc", "theta": -1.5708, "theta2": 1.5708, "filled": false},
     "encoding": {"radius": {"field": "r", "type": "quantitative", "stack": null, "scale": {"type": "linear", "domain": [0, 1], "range": [0, 227], "zero": true}}, "stroke": {"condition": [{"test": "datum.m==2", "value": "black"}, {"test": "datum.m==1", "value": "#9b9b9b"}], "value": "#dedede"}, "strokeWidth": {"condition": {"test": "datum.m==2", "value": 2.5}, "value": 1}}},
    {"data": {"name": "spokes"}, "transform": [{"calculate": "datum.a*PI/180", "as": "t"}, {"calculate": "0", "as": "px"}, {"calculate": "1000", "as": "py"}, {"calculate": "cos(datum.t)", "as": "qx"}, {"calculate": "1000+300*sin(datum.t)", "as": "qy"}],
     "mark": {"type": "rule", "strokeWidth": 1},
     "encoding": {"x2": {"field": "qx"}, "y2": {"field": "qy"}, "stroke": {"condition": {"test": "datum.a%10==0", "value": "#8a8a8a"}, "value": "#dedede"}}},
    {"data": {"name": "spokes"}, "transform": [{"calculate": "datum.a*PI/180", "as": "t"}, {"calculate": "1-(datum.a%10==0?6:3.5)/227", "as": "k"}, {"calculate": "datum.k*cos(datum.t)", "as": "px"}, {"calculate": "1000+300*datum.k*sin(datum.t)", "as": "py"}, {"calculate": "cos(datum.t)", "as": "qx"}, {"calculate": "1000+300*sin(datum.t)", "as": "qy"}],
     "mark": {"type": "rule", "stroke": "black", "strokeWidth": 1.5},
     "encoding": {"x2": {"field": "qx"}, "y2": {"field": "qy"}}},
    {"data": {"name": "rings"}, "transform": [{"filter": "datum.p=='e' && datum.m==0"}, {"calculate": "-1.2203", "as": "px"}, {"calculate": "datum.v", "as": "py"}, {"calculate": "-1.2379", "as": "qx"}],
     "mark": {"type": "rule", "stroke": "black", "strokeWidth": 1},
     "encoding": {"x2": {"field": "qx"}}},
    {"data": {"name": "poly"}, "transform": [{"filter": "datum.p=='e'"}, {"calculate": "(datum.v-1000)/300", "as": "r"}, {"calculate": "datum.r*cos(datum.a*PI/180)", "as": "px"}, {"calculate": "1000+300*datum.r*sin(datum.a*PI/180)", "as": "py"}],
     "mark": {"type": "line", "style": "hatch", "strokeWidth": 3, "interpolate": "linear-closed"},
     "encoding": {"order": {"field": "i", "type": "quantitative"}, "stroke": {"datum": "Crack number", "type": "nominal", "scale": {"range": ["#ff0000"]}, "legend": {"orient": "none", "legendX": 508, "legendY": 219.5, "title": null}}}},
    {"data": {"name": "spokes"}, "transform": [{"filter": "datum.a%10==0"}, {"calculate": "datum.a*PI/180", "as": "t"}, {"calculate": "1+(22+4*abs(sin(datum.t)))/227", "as": "k"}, {"calculate": "datum.k*cos(datum.t)-4/227", "as": "px"}, {"calculate": "1000+300*datum.k*sin(datum.t)", "as": "py"}],
     "mark": {"type": "text", "fontSize": 23, "align": "center", "baseline": "middle", "color": "black"},
     "encoding": {"text": {"field": "a", "type": "quantitative", "format": "d"}}}
   ]
  }
]
}
